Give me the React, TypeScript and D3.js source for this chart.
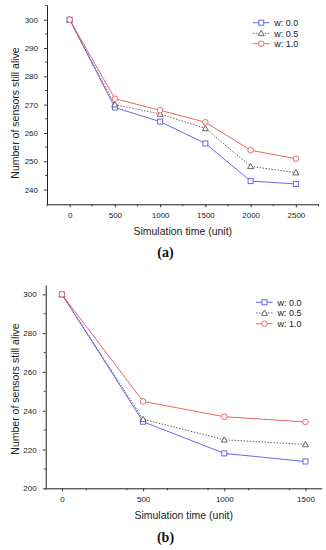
import React, { useEffect, useRef } from "react";
import * as d3 from "d3";

// panel (a)
const timesA = [0, 500, 1000, 1500, 2000, 2500];
const aliveA_w00 = [300, 269, 264, 256.3, 243, 242];
const aliveA_w05 = [300, 270, 266.7, 261.6, 248.2, 246];
const aliveA_w10 = [300, 272.1, 268, 263.8, 253.9, 250.9];
const yTicksA = [240, 250, 260, 270, 280, 290, 300];
const xTicksA = [0, 500, 1000, 1500, 2000, 2500];

// panel (b)
const timesB = [0, 500, 1000, 1500];
const aliveB_w00 = [300, 234.3, 218, 213.8];
const aliveB_w05 = [300, 235.6, 225, 222.6];
const aliveB_w10 = [300, 244.8, 236.9, 234.2];
const yTicksB = [200, 220, 240, 260, 280, 300];
const xTicksB = [0, 500, 1000, 1500];

const seriesLabels = ["w: 0.0", "w: 0.5", "w: 1.0"];
const seriesColors = ["#6767ee", "#555555", "#ee6666"];
const seriesDash = [null, "1.5,1.5", null];
const seriesMarker = ["square", "triangle", "circle"];

const FONT = "'Liberation Sans', Arial, sans-serif";

const drawMarker = (g, kind, x, y, color) => {
  if (kind === "square") {
    g.append("rect")
      .attr("x", x - 2.5)
      .attr("y", y - 2.5)
      .attr("width", 5)
      .attr("height", 5)
      .attr("fill", "#fff")
      .attr("stroke", color)
      .attr("stroke-width", 1);
  } else if (kind === "circle") {
    g.append("circle")
      .attr("cx", x)
      .attr("cy", y)
      .attr("r", 2.8)
      .attr("fill", "#fff")
      .attr("stroke", color)
      .attr("stroke-width", 1);
  } else {
    g.append("path")
      .attr("d", `M${x},${y - 3} L${x + 3},${y + 2.3} L${x - 3},${y + 2.3} Z`)
      .attr("fill", "#fff")
      .attr("stroke", color)
      .attr("stroke-width", 0.9);
  }
};

const drawPanel = (svg, p) => {
  const x = d3.scaleLinear().domain(p.xDomain).range([p.left, p.right]);
  const y = d3.scaleLinear().domain(p.yDomain).range([p.bottom, p.top]);
  const g = svg.append("g");

  // minor ticks
  const xMinor = d3.range(p.xDomain[0], p.xDomain[1] + 1, 250).filter((v) => !p.xTicks.includes(v));
  xMinor.forEach((v) => {
    g.append("line")
      .attr("x1", x(v)).attr("x2", x(v))
      .attr("y1", p.bottom).attr("y2", p.bottom + 2)
      .attr("stroke", "#222").attr("stroke-width", 0.8);
  });
  const yMinor = d3.range(p.yTicks[0], p.yDomain[1], p.yMinorStep).filter((v) => !p.yTicks.includes(v));
  yMinor.forEach((v) => {
    g.append("line")
      .attr("x1", p.left - 2).attr("x2", p.left)
      .attr("y1", y(v)).attr("y2", y(v))
      .attr("stroke", "#222").attr("stroke-width", 0.8);
  });

  const xAxis = g
    .append("g")
    .attr("transform", `translate(0,${p.bottom})`)
    .call(
      d3.axisBottom(x).tickValues(p.xTicks).tickFormat(d3.format("d"))
        .tickSize(3).tickSizeOuter(0).tickPadding(5)
    );
  const yAxis = g
    .append("g")
    .attr("transform", `translate(${p.left},0)`)
    .call(
      d3.axisLeft(y).tickValues(p.yTicks).tickFormat(d3.format("d"))
        .tickSize(3).tickSizeOuter(0).tickPadding(6)
    );

  [xAxis, yAxis].forEach((ax) => {
    ax.select(".domain").attr("stroke", "#222").attr("stroke-width", 1);
    ax.selectAll(".tick line").attr("stroke", "#222").attr("stroke-width", 0.9);
    ax.selectAll(".tick text")
      .attr("fill", "#222")
      .style("font-family", FONT)
      .style("font-size", "8px");
  });

  // series
  p.series.forEach((vals, i) => {
    const pts = p.times.map((t, j) => [x(t), y(vals[j])]);
    const path = g
      .append("path")
      .attr("d", d3.line()(pts))
      .attr("fill", "none")
      .attr("stroke", seriesColors[i])
      .attr("stroke-width", i === 1 ? 0.9 : 1);
    if (seriesDash[i]) path.attr("stroke-dasharray", seriesDash[i]);
  });
  p.series.forEach((vals, i) => {
    p.times.forEach((t, j) => drawMarker(g, seriesMarker[i], x(t), y(vals[j]), seriesColors[i]));
  });

  // legend
  seriesLabels.forEach((label, i) => {
    const ly = p.legendY[i];
    const line = g
      .append("line")
      .attr("x1", p.legendX).attr("x2", p.legendX + 16.6)
      .attr("y1", ly).attr("y2", ly)
      .attr("stroke", seriesColors[i])
      .attr("stroke-width", i === 1 ? 0.9 : 1);
    if (seriesDash[i]) line.attr("stroke-dasharray", seriesDash[i]);
    drawMarker(g, seriesMarker[i], p.legendX + 8.5, ly, seriesColors[i]);
    g.append("text")
      .attr("x", p.legendX + 21.5)
      .attr("y", ly + 3.2)
      .attr("fill", "#222")
      .style("font-family", FONT)
      .style("font-size", "9px")
      .text(label);
  });

  // axis titles
  g.append("text")
    .attr("x", (p.left + p.right) / 2)
    .attr("y", p.bottom + 30.5)
    .attr("text-anchor", "middle")
    .attr("fill", "#222")
    .style("font-family", FONT)
    .style("font-size", "10.5px")
    .text("Simulation time (unit)");
  g.append("text")
    .attr("transform", `translate(18.7,${p.yLabelCenter}) rotate(-90)`)
    .attr("text-anchor", "middle")
    .attr("fill", "#222")
    .style("font-family", FONT)
    .style("font-size", "10.5px")
    .text("Number of sensors still alive");

  g.append("text")
    .attr("x", 165.5)
    .attr("y", p.captionY)
    .attr("text-anchor", "middle")
    .attr("fill", "#111")
    .style("font-family", "'Liberation Serif', 'Times New Roman', serif")
    .style("font-weight", "bold")
    .style("font-size", "14px")
    .text(p.caption);
};

const App = () => {
  const ref = useRef(null);

  useEffect(() => {
    const svg = d3.select(ref.current);
    svg.selectAll("*").remove();

    drawPanel(svg, {
      left: 47, right: 318.5, top: 5, bottom: 204.3,
      xDomain: [-250, 2750], yDomain: [234.8, 305.2],
      xTicks: xTicksA, yTicks: yTicksA, yMinorStep: 5,
      times: timesA,
      series: [aliveA_w00, aliveA_w05, aliveA_w10],
      legendX: 252.7, legendY: [22.7, 33.3, 43.7],
      yLabelCenter: 113, caption: "(a)", captionY: 256.8,
    });

    drawPanel(svg, {
      left: 45.7, right: 321.7, top: 285, bottom: 488.3,
      xDomain: [-100, 1600], yDomain: [200, 304.8],
      xTicks: xTicksB, yTicks: yTicksB, yMinorStep: 10,
      times: timesB,
      series: [aliveB_w00, aliveB_w05, aliveB_w10],
      legendX: 256, legendY: [302.3, 313, 323.7],
      yLabelCenter: 389, caption: "(b)", captionY: 542,
    });
  }, []);

  return (
    <div style={{ position: "absolute", top: 0, left: 0, width: 326, height: 550, background: "#fff" }}>
      <svg ref={ref} width={326} height={550} style={{ display: "block" }} />
    </div>
  );
};

export default App;
